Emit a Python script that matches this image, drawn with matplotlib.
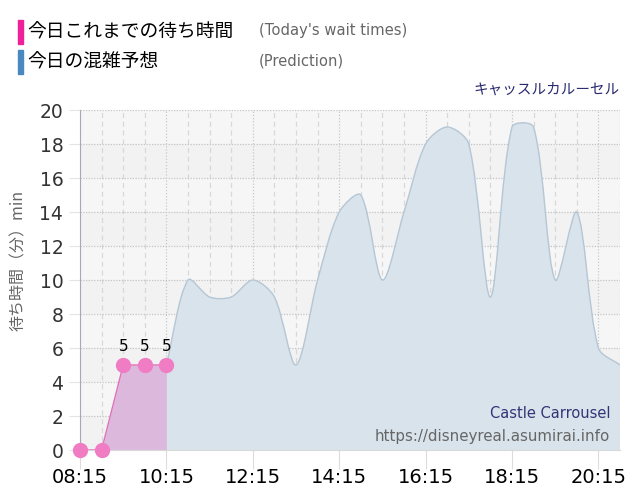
import numpy as np
import matplotlib
matplotlib.use("Agg")
import matplotlib.pyplot as plt
from matplotlib.path import Path
from matplotlib.patches import PathPatch, Rectangle

plt.rcParams['font.family'] = ['Noto Sans CJK JP', 'DejaVu Sans']

# today's measured wait times (minutes)
actual_times = ["08:15", "08:45", "09:15", "09:45", "10:15"]
actual_waits = [0, 0, 5, 5, 5]

# prediction for the rest of the day
pred_times = ["10:15", "10:45", "11:15", "11:45", "12:15", "12:45", "13:15",
              "13:45", "14:15", "14:45", "15:15", "15:45", "16:15", "16:45",
              "17:15", "17:45", "18:15", "18:45", "19:15", "19:45", "20:15",
              "20:45"]
pred_waits = [5, 10, 9, 9, 10, 9, 5, 10, 14, 15, 10, 14, 18, 19, 18, 9, 19,
              19, 10, 14, 6, 5]

tick_labels = ["08:15", "10:15", "12:15", "14:15", "16:15", "18:15", "20:15"]


def to_hours(t):
    h, m = t.split(":")
    return int(h) + int(m) / 60.0


def spline_path(ax, xs, ys, tension=0.3):
    # cardinal-style spline computed in pixel space, mapped back to data
    pts = ax.transData.transform(np.column_stack([xs, ys]))
    n = len(pts)
    cps = []
    for i in range(n):
        cur = pts[i]
        prev = pts[i - 1] if i > 0 else cur
        nxt = pts[i + 1] if i < n - 1 else cur
        d01 = np.hypot(*(cur - prev))
        d12 = np.hypot(*(nxt - cur))
        tot = d01 + d12
        s01 = d01 / tot if tot else 0
        s12 = d12 / tot if tot else 0
        fa = tension * s01
        fb = tension * s12
        cps.append((cur - fa * (nxt - prev), cur + fb * (nxt - prev)))
    verts = [pts[0]]
    codes = [Path.MOVETO]
    for i in range(1, n):
        verts += [cps[i - 1][1], cps[i][0], pts[i]]
        codes += [Path.CURVE4] * 3
    inv = ax.transData.inverted()
    verts = [tuple(v) for v in inv.transform(np.array(verts))]
    return verts, codes


ax_x = np.array([to_hours(t) for t in actual_times])
px = np.array([to_hours(t) for t in pred_times])

fig = plt.figure(figsize=(6.4, 5.0), dpi=100)
ax = fig.add_axes([80 / 640, 50 / 500, 540 / 640, 340 / 500])
ax.set_xlim(8.25, 20.75)
ax.set_ylim(0, 20)
ax.set_facecolor('#f4f4f4')

# alternating bands
for k in range(0, 20, 2):
    ax.axhspan(k, k + 2, color='#f2f2f2' if (k // 2) % 2 == 0 else '#f6f6f6', zorder=0, lw=0)

# grid
for h in np.arange(8.25, 20.76, 0.5):
    major = abs((h - 8.25) % 2) < 1e-6
    ax.axvline(h, color='#c8c8c8' if major else '#d8d8d8',
               ls=(0, (1, 1.5)) if major else (0, (4, 3)), lw=0.9, zorder=1)
for v in range(2, 21, 2):
    ax.axhline(v, color='#c4c4c4', ls=(0, (1, 1.2)), lw=0.9, zorder=1)

# prediction area
verts, codes = spline_path(ax, px, pred_waits)
fill_verts = verts + [(px[-1], 0), (px[0], 0), verts[0]]
fill_codes = codes + [Path.LINETO, Path.LINETO, Path.CLOSEPOLY]
ax.add_patch(PathPatch(Path(fill_verts, fill_codes), facecolor='#d9e3eb',
                       edgecolor='none', zorder=2))
ax.add_patch(PathPatch(Path(verts, codes), facecolor='none',
                       edgecolor='#b5c6d4', lw=1.0, zorder=3))

# today's wait times
ax.fill_between(ax_x, actual_waits, 0, color='#dcb9dc', lw=0, zorder=2)
ax.plot(ax_x, actual_waits, color='#e070b8', lw=1.0, zorder=4)
ax.plot(ax_x, actual_waits, 'o', ms=10, color='#f07cc4', mec='#f07cc4',
        clip_on=False, zorder=5)
for x, w in zip(ax_x, actual_waits):
    if w > 0:
        ax.annotate(str(w), (x, w), xytext=(0, 8), textcoords='offset points',
                    ha='center', va='bottom', fontsize=11, family='DejaVu Sans')

# axes styling
for s in ['top', 'right']:
    ax.spines[s].set_visible(False)
ax.spines['left'].set_color('#a8a8b8')
ax.spines['bottom'].set_color('#d8d8d8')
ax.set_yticks(range(0, 21, 2))
ax.set_yticklabels([str(v) for v in range(0, 21, 2)], family='DejaVu Sans')
ax.set_xticks([to_hours(t) for t in tick_labels])
ax.set_xticklabels(tick_labels, family='DejaVu Sans')
ax.tick_params(axis='y', length=8, color='#e4e4e4', labelsize=13.5,
               labelcolor='#333333', pad=4)
ax.tick_params(axis='x', length=14, color='#dcdcdc', labelsize=14,
               labelcolor='black', pad=-1)

fig.text(18 / 640, 1 - 260 / 500, "待ち時間（分）min", rotation=90,
         ha='center', va='center', fontsize=11.5, color='#666666')

# header legend
fig.patches.append(Rectangle((18 / 640, 1 - 44 / 500), 5 / 640, 24 / 500,
                             transform=fig.transFigure, color='#f0209a'))
fig.patches.append(Rectangle((18 / 640, 1 - 74 / 500), 5 / 640, 24 / 500,
                             transform=fig.transFigure, color='#4a88c0'))
fig.text(27 / 640, 1 - 32 / 500, "今日これまでの待ち時間", ha='left', va='center',
         fontsize=13.5, color='black')
fig.text(27 / 640, 1 - 62 / 500, "今日の混雑予想", ha='left', va='center',
         fontsize=13.5, color='black')
fig.text(259 / 640, 1 - 31 / 500, "(Today's wait times)", ha='left', va='center',
         fontsize=10.6, color='#666666', family='DejaVu Sans')
fig.text(259 / 640, 1 - 61 / 500, "(Prediction)", ha='left', va='center',
         fontsize=10.6, color='#666666', family='DejaVu Sans')
fig.text(620 / 640, 1 - 90 / 500, "キャッスルカルーセル", ha='right', va='center',
         fontsize=10.5, color='#2a2a70')

# watermark
fig.text(610 / 640, 1 - 414 / 500, "Castle Carrousel", ha='right', va='center',
         fontsize=10.5, color='#333377', family='DejaVu Sans')
fig.text(610 / 640, 1 - 436 / 500, "https://disneyreal.asumirai.info", ha='right',
         va='center', fontsize=10.8, color='#666666', family='DejaVu Sans')

fig.savefig("out.png", dpi=100)
